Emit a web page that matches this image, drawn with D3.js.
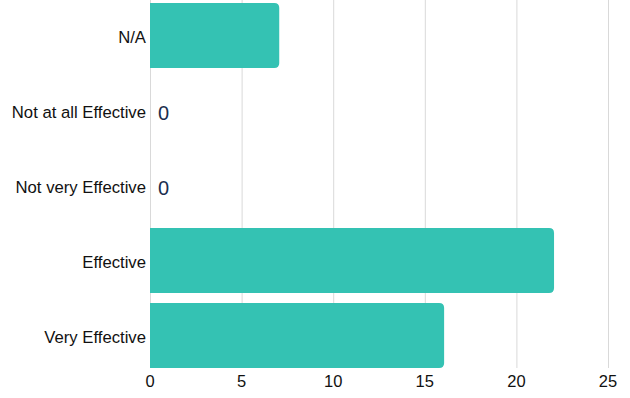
<!DOCTYPE html>
<html>
<head>
<meta charset="utf-8">
<script src="https://cdn.jsdelivr.net/npm/d3@7"></script>
<style>
  body { margin: 0; background: #fff; }
  text { font-family: "Liberation Sans", Arial, sans-serif; }
</style>
</head>
<body>
<div id="chart"></div>
<script>
let width = 630;
let height = 398;

// data
let categories = ["N/A", "Not at all Effective", "Not very Effective", "Effective", "Very Effective"];
let values = [7, 0, 0, 22, 16];
let xTicks = [0, 5, 10, 15, 20, 25];

let rows = categories.map((c, i) => ({c: c, v: values[i]}));

let left = 150, right = 608;

let svg = d3.select("#chart")
    .append("svg")
    .attr("width", width)
    .attr("height", height);

let x = d3.scaleLinear()
    .domain([0, 25])
    .range([left, right]);

let y = d3.scaleBand()
    .domain(categories)
    .range([-2, 373])
    .paddingInner(0.1333)
    .paddingOuter(0.0667);

// grid
svg.append("g")
    .selectAll("line")
    .data(xTicks)
    .enter()
    .append("line")
    .attr("x1", d => x(d) + 0.5)
    .attr("x2", d => x(d) + 0.5)
    .attr("y1", 0)
    .attr("y2", 368)
    .attr("stroke", "#d9d9d9")
    .attr("stroke-width", 1);

// bars with rounded right end
function barPath(d) {
    let x0 = x(0), x1 = x(d.v) + 1, y0 = y(d.c), h = y.bandwidth();
    let r = Math.min(5, (x1 - x0) / 2);
    return "M" + x0 + "," + y0 +
        "H" + (x1 - r) +
        "Q" + x1 + "," + y0 + " " + x1 + "," + (y0 + r) +
        "V" + (y0 + h - r) +
        "Q" + x1 + "," + (y0 + h) + " " + (x1 - r) + "," + (y0 + h) +
        "H" + x0 + "Z";
}

svg.append("g")
    .selectAll("path")
    .data(rows.filter(d => d.v > 0))
    .enter()
    .append("path")
    .attr("d", barPath)
    .attr("fill", "#34c2b3");

// labels for empty rows
svg.append("g")
    .selectAll("text")
    .data(rows.filter(d => d.v === 0))
    .enter()
    .append("text")
    .attr("x", x(0) + 8)
    .attr("y", d => y(d.c) + y.bandwidth() / 2 + 2)
    .attr("dy", "0.35em")
    .attr("font-size", 20)
    .attr("fill", "#1b2e4e")
    .text(d => d.v);

// category labels
svg.append("g")
    .selectAll("text")
    .data(categories)
    .enter()
    .append("text")
    .attr("x", left - 4)
    .attr("y", d => y(d) + y.bandwidth() / 2 + 2)
    .attr("dy", "0.35em")
    .attr("text-anchor", "end")
    .attr("font-size", 16.7)
    .attr("fill", "#111")
    .text(d => d);

// x tick labels
svg.append("g")
    .selectAll("text")
    .data(xTicks)
    .enter()
    .append("text")
    .attr("x", d => x(d))
    .attr("y", 381)
    .attr("dy", "0.35em")
    .attr("text-anchor", "middle")
    .attr("font-size", 16.5)
    .attr("fill", "#111")
    .text(d => d);
</script>
</body>
</html>
